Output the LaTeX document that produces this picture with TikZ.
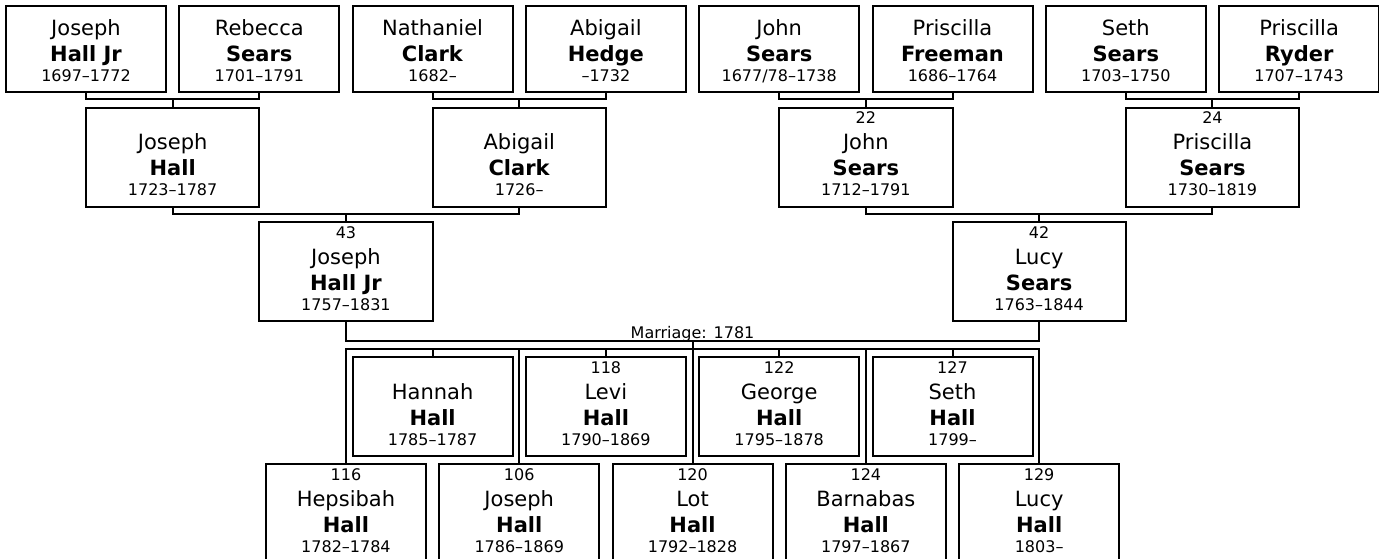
\documentclass[tikz,border=0pt]{standalone}
\usepackage{fontspec}
\setmainfont{DejaVu Sans}
\usepackage{tikz}

\newcommand\pcard[4]{\vtop{\hsize=150pt\parindent=0pt\parskip=0pt\centering\lineskiplimit=-99pt
  \fontsize{16}{16}\selectfont\mbox{}#1\par
  \fontsize{21}{26}\selectfont #2\par
  \textbf{#3}\par
  \fontsize{16}{20}\selectfont #4\par}}

\begin{document}
\begin{tikzpicture}[x=1pt,y=-1pt,line width=2pt,
  every node/.style={inner sep=0pt,outer sep=0pt},
  topbox/.style={draw,anchor=north,minimum width=160pt,text height=4pt,text depth=82pt},
  widebox/.style={draw,anchor=north,minimum width=173.3pt,text height=16pt,text depth=83pt},
  kidbox/.style={draw,anchor=north,minimum width=160pt,text height=16pt,text depth=83pt}]
\useasboundingbox (0,0) rectangle (1379,559);

\node[topbox] (jhs) at (86,6) {\pcard{}{Joseph}{Hall Jr}{1697--1772}};
\node[topbox] (rs) at (259.3,6) {\pcard{}{Rebecca}{Sears}{1701--1791}};
\node[topbox] (nc) at (432.6,6) {\pcard{}{Nathaniel}{Clark}{1682--}};
\node[topbox] (ah) at (605.9,6) {\pcard{}{Abigail}{Hedge}{--1732}};
\node[topbox] (js) at (779.2,6) {\pcard{}{John}{Sears}{1677/78--1738}};
\node[topbox] (pf) at (952.5,6) {\pcard{}{Priscilla}{Freeman}{1686--1764}};
\node[topbox] (ss) at (1125.8,6) {\pcard{}{Seth}{Sears}{1703--1750}};
\node[topbox] (pr) at (1299.1,6) {\pcard{}{Priscilla}{Ryder}{1707--1743}};

\node[widebox] (jh) at (172.65,108) {\pcard{}{Joseph}{Hall}{1723--1787}};
\node[widebox] (ac) at (519.25,108) {\pcard{}{Abigail}{Clark}{1726--}};
\node[widebox] (jsj) at (865.85,108) {\pcard{22}{John}{Sears}{1712--1791}};
\node[widebox] (ps) at (1212.45,108) {\pcard{24}{Priscilla}{Sears}{1730--1819}};

\node[widebox] (jhj) at (345.95,222) {\pcard{43}{Joseph}{Hall Jr}{1757--1831}};
\node[widebox] (ls) at (1039.15,222) {\pcard{42}{Lucy}{Sears}{1763--1844}};

\node[kidbox] (hah) at (432.6,357) {\pcard{}{Hannah}{Hall}{1785--1787}};
\node[kidbox] (lev) at (605.9,357) {\pcard{118}{Levi}{Hall}{1790--1869}};
\node[kidbox] (geo) at (779.2,357) {\pcard{122}{George}{Hall}{1795--1878}};
\node[kidbox] (set) at (952.5,357) {\pcard{127}{Seth}{Hall}{1799--}};

\node[kidbox] (hep) at (345.95,464) {\pcard{116}{Hepsibah}{Hall}{1782--1784}};
\node[kidbox] (jos) at (519.25,464) {\pcard{106}{Joseph}{Hall}{1786--1869}};
\node[kidbox] (lot) at (692.55,464) {\pcard{120}{Lot}{Hall}{1792--1828}};
\node[kidbox] (bar) at (865.85,464) {\pcard{124}{Barnabas}{Hall}{1797--1867}};
\node[kidbox] (luc) at (1039.15,464) {\pcard{129}{Lucy}{Hall}{1803--}};

\draw (jhs.south) -- ++(0,7) -| (rs.south);
\draw (jh.north) -- ++(0,-9);
\draw (nc.south) -- ++(0,7) -| (ah.south);
\draw (ac.north) -- ++(0,-9);
\draw (js.south) -- ++(0,7) -| (pf.south);
\draw (jsj.north) -- ++(0,-9);
\draw (ss.south) -- ++(0,7) -| (pr.south);
\draw (ps.north) -- ++(0,-9);

\draw (jh.south) -- ++(0,7) -| (ac.south);
\draw (jhj.north) -- ++(0,-8);
\draw (jsj.south) -- ++(0,7) -| (ps.south);
\draw (ls.north) -- ++(0,-8);

\draw (jhj.south) -- ++(0,20) -| (ls.south);
\node[anchor=base,font=\fontsize{16}{16}\selectfont] (mar) at (692.55,338) {Marriage: 1781};
\draw (lot.north) -- ++(0,-123);

\draw (hep.north) -- ++(0,-115) -| (luc.north);
\draw (jos.north) -- ++(0,-115);
\draw (bar.north) -- ++(0,-115);
\foreach \k in {hah,lev,geo,set}
  \draw (\k.north) -- ++(0,-8);
\end{tikzpicture}
\end{document}
